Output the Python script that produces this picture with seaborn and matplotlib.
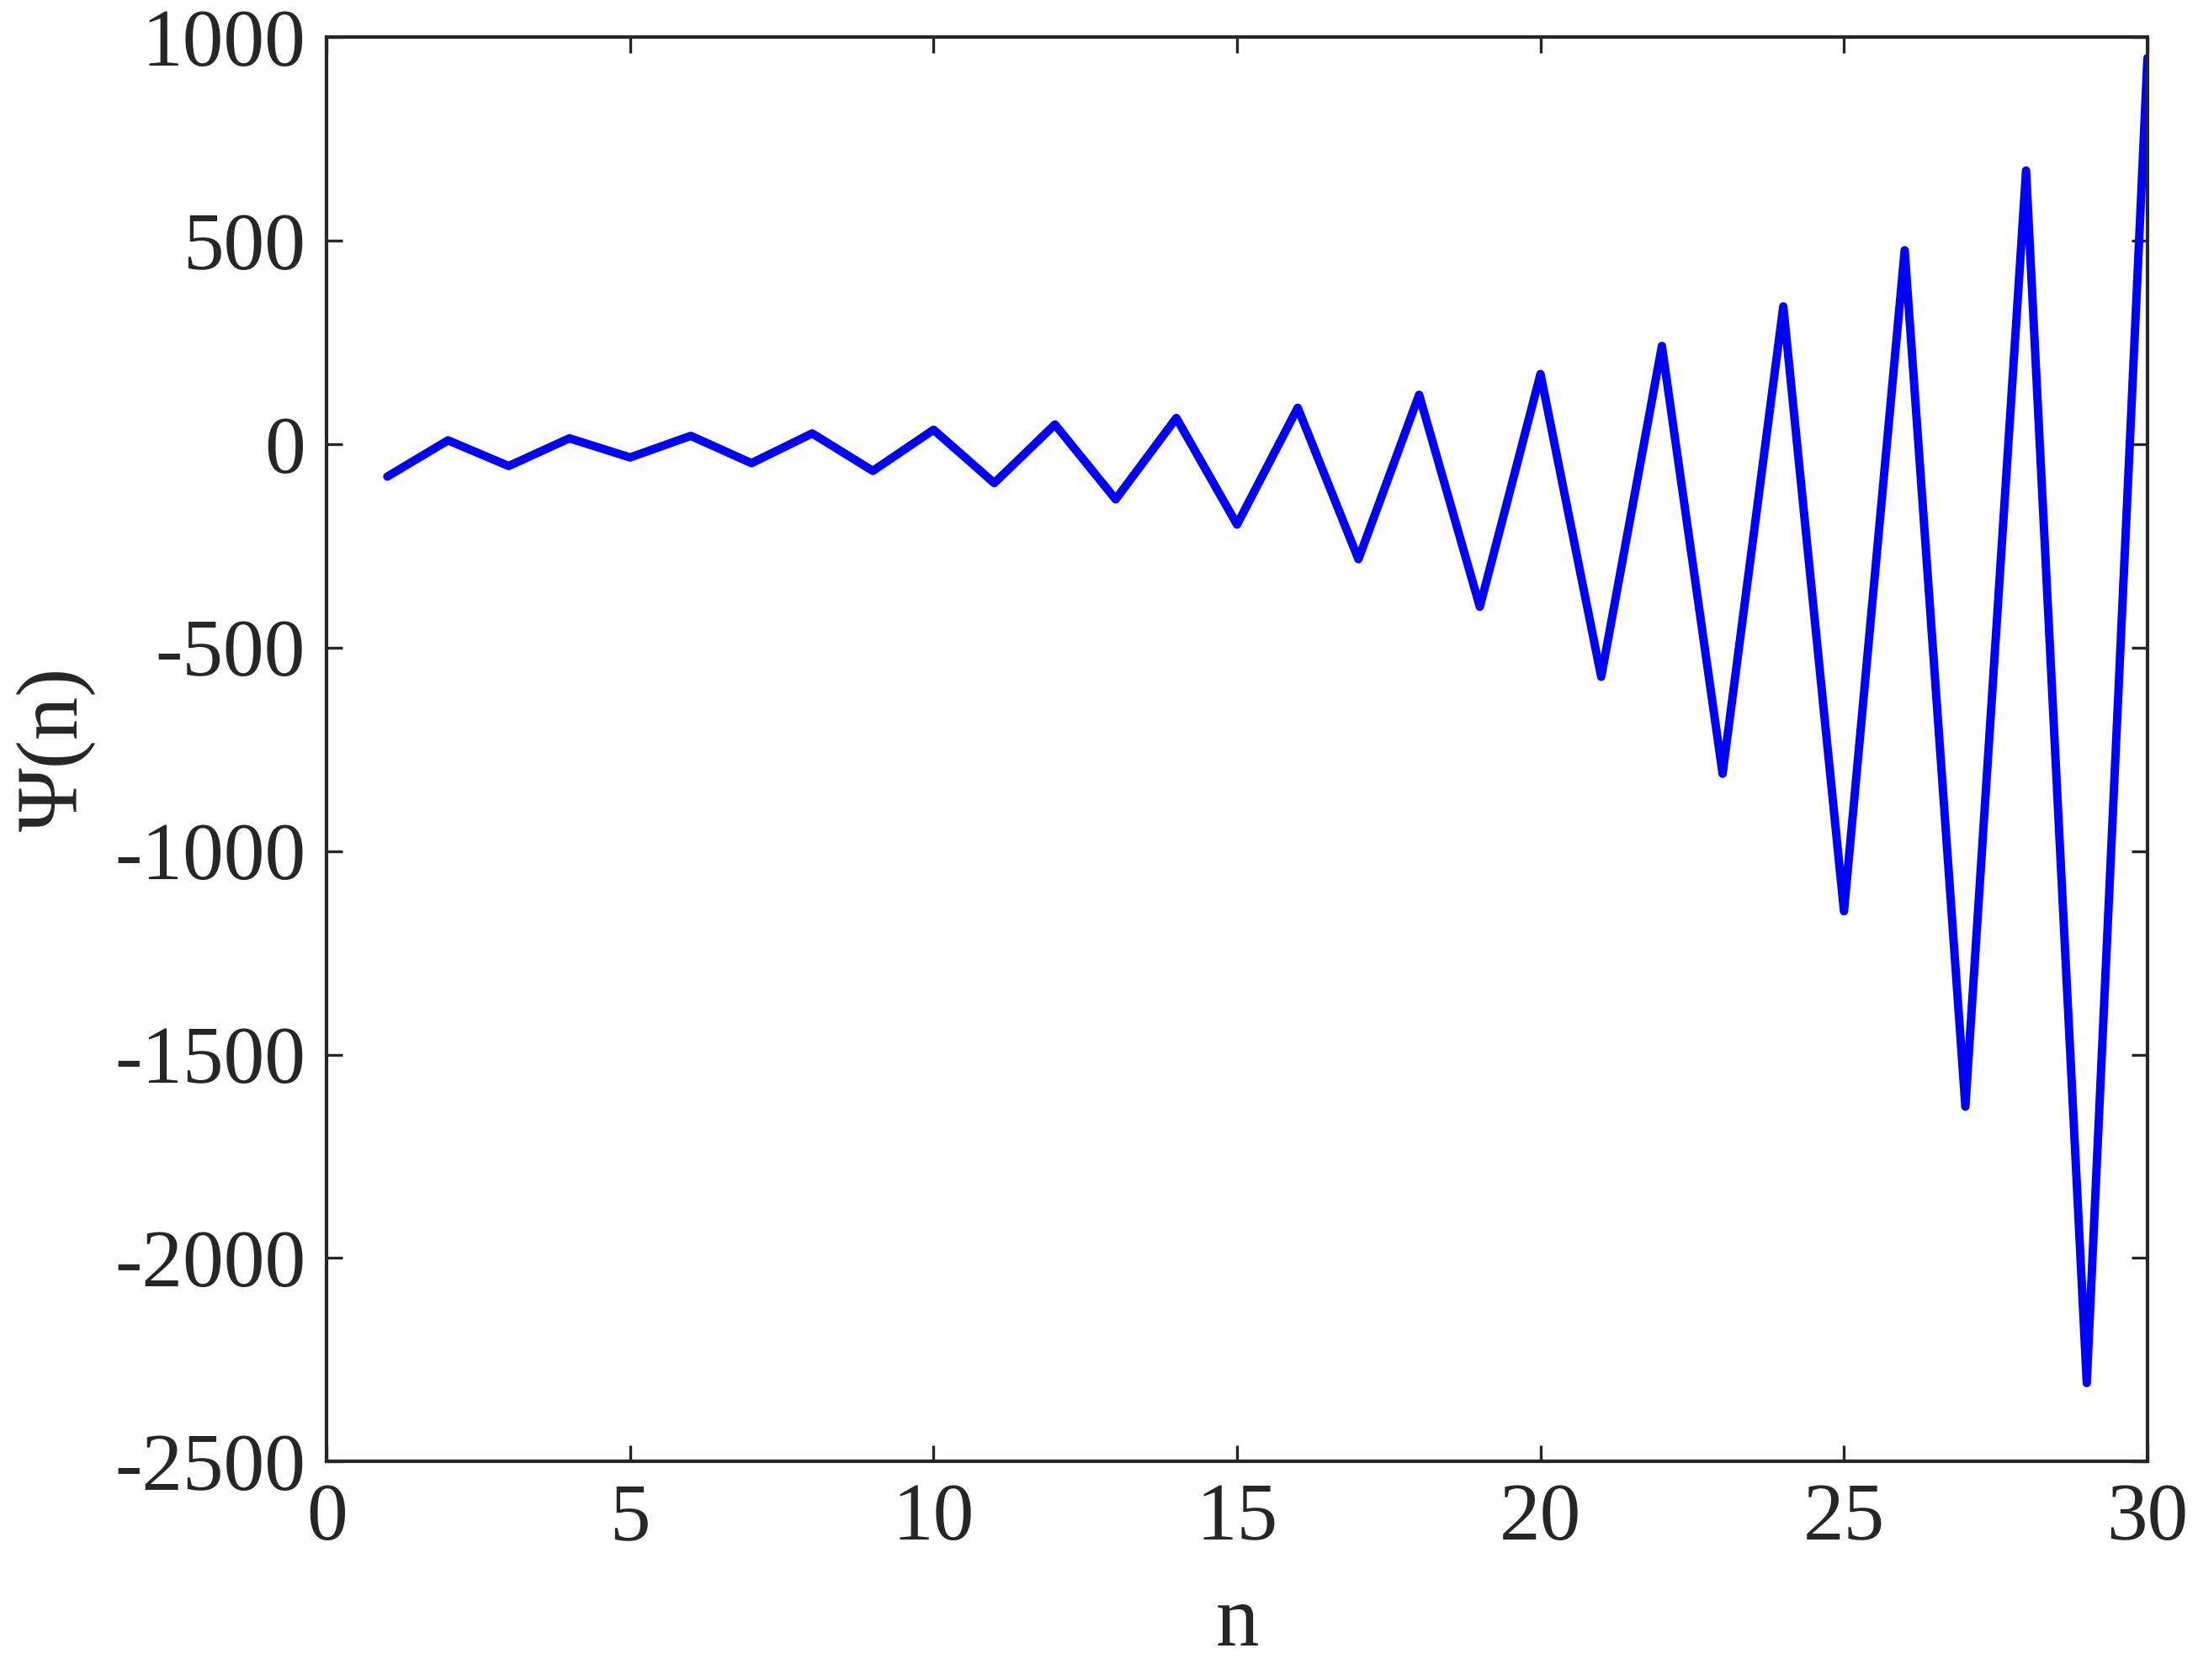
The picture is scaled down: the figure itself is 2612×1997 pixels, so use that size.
import numpy as np
import pandas as pd
import matplotlib
matplotlib.use("Agg")
import matplotlib.pyplot as plt
import seaborn as sns

n_values = list(range(1, 31))
psi_values = [-80, 9, -54, 14, -33, 20, -47, 26, -66, 35,
              -96, 48, -136, 64, -198, 89, -283, 121, -400, 172,
              -572, 241, -810, 338, -1148, 476, -1628, 672, -2307, 948]
x_ticks = [0, 5, 10, 15, 20, 25, 30]
y_ticks = [-2500, -2000, -1500, -1000, -500, 0, 500, 1000]

df = pd.DataFrame({"n": n_values, "psi": psi_values})

sns.set_style("ticks")
plt.rcParams['font.family'] = ['Liberation Serif', 'DejaVu Serif']

fig = plt.figure(figsize=(13.06, 9.985), dpi=200)
ax = fig.add_axes([0.1486, 0.130, 0.977 - 0.1486, 0.978 - 0.130])

sns.lineplot(data=df, x="n", y="psi", ax=ax, color="#0000FF", linewidth=3.6)

ax.set_xlim(0, 30)
ax.set_ylim(-2500, 1000)
ax.set_xticks(x_ticks)
ax.set_yticks(y_ticks)
ax.set_xticklabels([str(t) for t in x_ticks])
ax.set_yticklabels([str(t) for t in y_ticks])

text_color = "#262626"
ax.tick_params(direction="in", length=7, width=1.2, top=True, right=True,
               labelsize=35, colors=text_color, pad=9)
for s in ax.spines.values():
    s.set_visible(True)
    s.set_linewidth(1.5)
    s.set_color(text_color)

ax.set_xlabel("n", fontsize=37, color=text_color, labelpad=12)
ax.set_ylabel("Ψ(n)", fontsize=37, color=text_color, labelpad=8)

fig.savefig("out.png", dpi=200, facecolor="white")
